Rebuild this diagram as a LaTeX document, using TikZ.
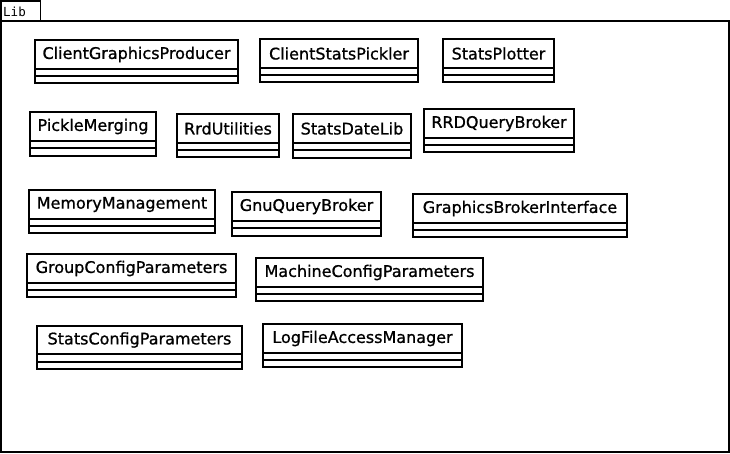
\documentclass[tikz,border=0pt]{standalone}
\usepackage{fontspec}
\setmainfont{DejaVu Sans}
\newfontfamily\namefont{DejaVu Sans}[FakeBold=0.9]
\newfontfamily\tabfont{DejaVu Sans Mono}
\tikzset{
  classbox/.style={draw=black, line width=2pt},
  classname/.style={inner sep=0pt, font=\namefont\fontsize{16}{19}\selectfont},
  frameline/.style={draw=black, line width=1.6pt},
}
\newcommand\umlclass[8]{%
  \draw[classbox] (#3,#4) rectangle (#5,#6);
  \draw[classbox] (#3,#7) -- (#5,#7);
  \draw[classbox] (#3,#8) -- (#5,#8);
  \node[classname] (#1) at ({(#3+#5)/2},{(#4+#7)/2}) {#2};
}
\begin{document}
\begin{tikzpicture}[x=1pt,y=-1pt]
\useasboundingbox (0,0) rectangle (730,453);
\fill[white] (0,0) rectangle (730,453);
% package tab and frame
\draw[frameline] (0.8,0.8) rectangle (40.5,21);
\node[anchor=base west, inner sep=0pt, font=\tabfont\fontsize{12.5}{14}\selectfont] (libtab) at (3,16) {Lib};
\draw[frameline] (1,21) rectangle (729,452);
% classes
\umlclass{cgp}{ClientGraphicsProducer}{35}{40}{238}{83}{69}{76}
\umlclass{csp}{ClientStatsPickler}{260}{39}{418}{82}{68}{75}
\umlclass{sp}{StatsPlotter}{443}{39}{554}{82}{68}{75}
\umlclass{pm}{PickleMerging}{30}{112}{156}{156}{141}{148}
\umlclass{ru}{RrdUtilities}{177}{114}{279}{157}{143}{150}
\umlclass{sdl}{StatsDateLib}{293}{114}{411}{158}{143}{150}
\umlclass{rqb}{RRDQueryBroker}{424}{109}{574}{152}{138}{145}
\umlclass{mm}{MemoryManagement}{29}{190}{215}{233}{219}{226}
\umlclass{gqb}{GnuQueryBroker}{232}{192}{381}{236}{221}{228}
\umlclass{gbi}{GraphicsBrokerInterface}{413}{194}{627}{237}{223}{230}
\umlclass{gcp}{GroupConfigParameters}{27}{254}{236}{297}{283}{290}
\umlclass{mcp}{MachineConfigParameters}{256}{258}{483}{301}{287}{294}
\umlclass{scp}{StatsConfigParameters}{37}{326}{242}{369}{354}{362}
\umlclass{lfam}{LogFileAccessManager}{263}{324}{462}{367}{353}{360}
\end{tikzpicture}
\end{document}
